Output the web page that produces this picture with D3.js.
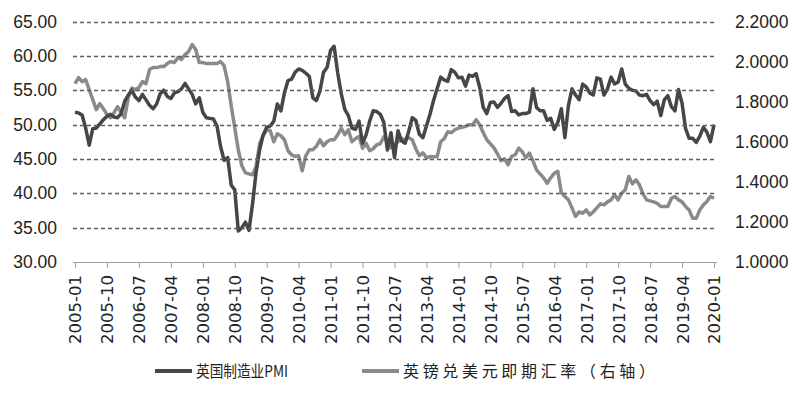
<!DOCTYPE html>
<html>
<head>
<meta charset="utf-8">
<script src="https://cdn.jsdelivr.net/npm/d3@7"></script>
<style>
    body { margin: 0; background: #fff; }
    svg { display: block; }
</style>
</head>
<body>
<div id="line-chart"></div>
<script>
// monthly data, 2005-01 .. 2020-01
var pmi = [].concat(
    [51.8, 51.7, 51.4, 49.5, 47.0, 49.4, 49.5, 50.1, 50.7, 51.2, 51.5, 51.1],
    [51.0, 51.6, 53.4, 54.3, 55.0, 54.0, 53.5, 54.4, 53.6, 52.8, 52.3, 53.0],
    [54.5, 55.0, 54.1, 53.8, 54.6, 54.8, 55.2, 56.0, 55.2, 54.4, 53.0, 53.9],
    [51.8, 51.0, 50.9, 50.8, 49.8, 46.8, 44.8, 45.2, 41.2, 40.5, 34.5, 35.0],
    [35.8, 34.6, 38.4, 43.0, 46.3, 48.5, 49.6, 49.8, 50.5, 53.0, 52.0, 54.6],
    [56.4, 56.6, 57.6, 58.1, 57.9, 57.5, 57.0, 53.9, 53.5, 54.9, 57.6, 58.3],
    [60.8, 61.4, 57.5, 54.5, 52.2, 51.3, 49.5, 49.3, 50.5, 47.3, 48.5, 50.5],
    [52.0, 51.9, 51.5, 50.3, 46.3, 48.8, 45.2, 49.1, 47.6, 47.3, 49.0, 51.0],
    [50.6, 48.6, 48.1, 49.8, 51.5, 53.5, 55.2, 56.9, 56.5, 56.3, 58.0, 57.6],
    [56.8, 56.9, 55.6, 57.2, 57.0, 57.4, 55.4, 52.5, 51.6, 53.2, 53.3, 52.5],
    [53.1, 53.8, 54.2, 51.9, 52.0, 51.4, 51.6, 51.6, 51.8, 55.2, 52.5, 52.0],
    [52.0, 50.6, 50.9, 49.3, 50.3, 52.3, 48.1, 52.8, 55.2, 54.3, 53.6, 55.9],
    [55.5, 54.6, 54.3, 56.8, 56.6, 54.3, 55.2, 56.9, 55.9, 56.2, 58.1, 55.9],
    [55.3, 55.0, 54.9, 54.3, 54.2, 54.4, 53.5, 52.9, 53.4, 51.3, 53.6, 54.2],
    [52.6, 52.0, 55.1, 53.1, 49.4, 48.0, 48.0, 47.4, 48.3, 49.6, 48.9, 47.5],
    [50.0]
);

var gbpusd = [].concat(
    [1.890, 1.920, 1.900, 1.910, 1.860, 1.810, 1.760, 1.790, 1.765, 1.735, 1.720, 1.745],
    [1.775, 1.745, 1.720, 1.820, 1.868, 1.860, 1.870, 1.900, 1.890, 1.960, 1.970, 1.970],
    [1.975, 1.975, 1.990, 2.000, 1.995, 2.020, 2.010, 2.035, 2.050, 2.085, 2.060, 1.995],
    [1.995, 1.990, 1.990, 1.990, 1.990, 2.000, 1.980, 1.900, 1.780, 1.670, 1.560, 1.480],
    [1.445, 1.440, 1.435, 1.475, 1.590, 1.630, 1.660, 1.655, 1.600, 1.640, 1.630, 1.610],
    [1.555, 1.535, 1.527, 1.530, 1.455, 1.530, 1.560, 1.560, 1.577, 1.610, 1.580, 1.600],
    [1.610, 1.610, 1.635, 1.668, 1.635, 1.660, 1.600, 1.615, 1.627, 1.568, 1.593, 1.555],
    [1.565, 1.585, 1.590, 1.625, 1.600, 1.570, 1.585, 1.600, 1.615, 1.610, 1.620, 1.610],
    [1.565, 1.530, 1.545, 1.520, 1.525, 1.525, 1.525, 1.600, 1.615, 1.650, 1.645, 1.660],
    [1.668, 1.672, 1.677, 1.685, 1.685, 1.710, 1.685, 1.645, 1.610, 1.590, 1.570, 1.540],
    [1.505, 1.515, 1.485, 1.527, 1.535, 1.568, 1.550, 1.520, 1.543, 1.505, 1.460, 1.440],
    [1.420, 1.393, 1.420, 1.443, 1.452, 1.345, 1.327, 1.310, 1.270, 1.227, 1.250, 1.243],
    [1.260, 1.235, 1.250, 1.270, 1.290, 1.285, 1.300, 1.310, 1.335, 1.310, 1.343, 1.360],
    [1.427, 1.390, 1.410, 1.385, 1.340, 1.310, 1.305, 1.300, 1.293, 1.277, 1.277, 1.277],
    [1.318, 1.327, 1.310, 1.300, 1.277, 1.260, 1.218, 1.218, 1.260, 1.285, 1.302, 1.327],
    [1.318]
);

var months = d3.timeMonth.range(new Date(2005, 0, 1), new Date(2020, 1, 1)).map(d3.timeFormat("%Y-%m"));

var tickLabels = ["2005-01", "2005-10", "2006-07", "2007-04", "2008-01", "2008-10", "2009-07",
    "2010-04", "2011-01", "2011-10", "2012-07", "2013-04", "2014-01", "2014-10", "2015-07",
    "2016-04", "2017-01", "2017-10", "2018-07", "2019-04", "2020-01"];
var leftTicks = [30, 35, 40, 45, 50, 55, 60, 65];
var rightTicks = [1.0, 1.2, 1.4, 1.6, 1.8, 2.0, 2.2];
var seriesNames = ["英国制造业PMI", "英镑兑美元即期汇率（右轴）"];

function LineChart() {
    var self = this;
    self.init();
}

LineChart.prototype.init = function () {
    var self = this;
    self.svgWidth = 800;
    self.svgHeight = 398;

    self.svg = d3.select("#line-chart").append("svg")
        .attr("width", self.svgWidth)
        .attr("height", self.svgHeight);

    self.xScale = d3.scalePoint().domain(months).range([75, 714]);
    self.yLeft = d3.scaleLinear().domain([30, 65]).range([262, 21.5]);
    self.yRight = d3.scaleLinear().domain([1.0, 2.2]).range([262, 21.5]);

    var xAxis = d3.axisBottom(self.xScale).tickValues(tickLabels).tickSize(6).tickSizeOuter(0);
    var gx = self.svg.append("g").attr("id", "xAxis")
        .attr("transform", "translate(0,262)")
        .call(xAxis);
    gx.select(".domain").attr("stroke", "#a0a0a0").attr("d", "M73,0.5H717");
    gx.selectAll(".tick line").attr("stroke", "#a0a0a0");
    gx.selectAll("text")
        .attr("transform", "rotate(-90)")
        .attr("text-anchor", "end")
        .attr("x", -13)
        .attr("y", 0)
        .attr("dy", "0.36em")
        .attr("dx", 0)
        .style("font-family", "'DejaVu Sans', sans-serif")
        .style("font-size", "16.5px")
        .attr("fill", "#222");

    var yAxisL = d3.axisLeft(self.yLeft).tickValues(leftTicks).tickFormat(d3.format(".2f")).tickSize(0);
    var gl = self.svg.append("g").attr("id", "yAxisLeft")
        .attr("transform", "translate(70,0)")
        .call(yAxisL);
    var yAxisR = d3.axisRight(self.yRight).tickValues(rightTicks).tickFormat(d3.format(".4f")).tickSize(0);
    var gr = self.svg.append("g").attr("id", "yAxisRight")
        .attr("transform", "translate(726,0)")
        .call(yAxisR);
    [gl, gr].forEach(function (g) {
        g.select(".domain").remove();
        g.selectAll("text")
            .style("font-family", "'Liberation Sans', sans-serif")
            .style("font-size", "17.5px")
            .attr("fill", "#222");
    });
    gl.selectAll("text").attr("x", -13);
    gr.selectAll("text").attr("x", 9);

    var linePmi = d3.line()
        .x(function (d, i) { return self.xScale(months[i]); })
        .y(function (d) { return self.yLeft(d); });
    var lineFx = d3.line()
        .x(function (d, i) { return self.xScale(months[i]); })
        .y(function (d) { return self.yRight(d); });

    self.svg.append("path").datum(gbpusd)
        .attr("d", lineFx)
        .attr("fill", "none")
        .attr("stroke", "#8a8a8a")
        .attr("stroke-width", 3.5)
        .attr("stroke-linejoin", "round");
    self.svg.append("path").datum(pmi)
        .attr("d", linePmi)
        .attr("fill", "none")
        .attr("stroke", "#464646")
        .attr("stroke-width", 3.5)
        .attr("stroke-linejoin", "round");

    // dashed gridlines, one path per left-axis value
    var grid = self.svg.append("g").attr("class", "gridlines");
    grid.selectAll("path")
        .data(leftTicks.slice(1))
        .enter().append("path")
        .attr("d", function (d) {
            var gy = Math.round(self.yLeft(d)) + 0.5;
            return "M73," + gy + "H717";
        })
        .attr("fill", "none")
        .attr("stroke", "#5e5e5e")
        .attr("stroke-width", 1.3)
        .attr("stroke-dasharray", "4,3");

    // legend
    var legend = self.svg.append("g").attr("id", "legend");
    var items = [
        {name: seriesNames[0], color: "#464646", x: 155, len: 92},
        {name: seriesNames[1], color: "#8a8a8a", x: 362, len: 252}
    ];
    items.forEach(function (it, i) {
        legend.append("line")
            .attr("x1", it.x).attr("x2", it.x + 37)
            .attr("y1", 371).attr("y2", 371)
            .attr("stroke", it.color)
            .attr("stroke-width", 4);
        legend.append("text")
            .attr("x", it.x + 41)
            .attr("y", 371)
            .attr("dy", "0.35em")
            .attr("textLength", it.len)
            .attr("lengthAdjust", i === 0 ? "spacingAndGlyphs" : "spacing")
            .style("font-family", "'Noto Sans CJK SC', sans-serif")
            .style("font-size", "16px")
            .attr("fill", "#222")
            .text(it.name);
    });
};

var chart = new LineChart();
</script>
</body>
</html>
